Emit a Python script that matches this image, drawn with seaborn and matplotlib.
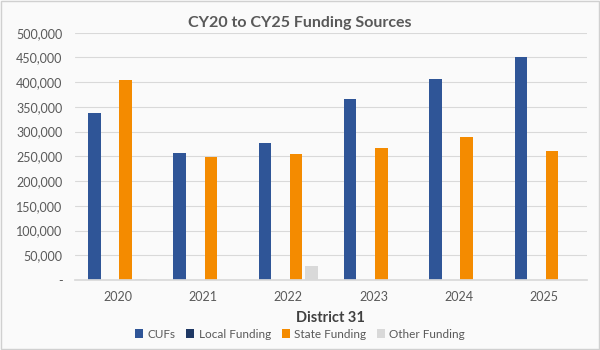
import matplotlib
matplotlib.use("Agg")
import matplotlib.pyplot as plt
import matplotlib.ticker as mticker
import seaborn as sns
import pandas as pd

years = ["2020", "2021", "2022", "2023", "2024", "2025"]
series = ["CUFs", "Local Funding", "State Funding", "Other Funding"]
cufs = [337000, 257000, 276000, 365000, 406000, 450000]
local_funding = [0, 0, 0, 0, 0, 0]
state_funding = [405000, 248000, 254000, 267000, 290000, 260000]
other_funding = [2000, 1000, 28000, 0, 0, 0]
colors = ["#2F5597", "#1F3864", "#F48B00", "#D9D9D9"]

rows = []
for name, vals in zip(series, [cufs, local_funding, state_funding, other_funding]):
    for y, v in zip(years, vals):
        rows.append({"Year": y, "Series": name, "Value": v})
df = pd.DataFrame(rows)

sns.set_theme(style="white")
plt.rcParams["font.family"] = ["Lato", "DejaVu Sans"]

fig = plt.figure(figsize=(6, 3.5), dpi=100)
fig.patch.set_facecolor("#FAFAFA")
ax = fig.add_axes([0.125, 0.2, 0.853, 0.7066])
ax.set_facecolor("#FAFAFA")

sns.barplot(data=df, x="Year", y="Value", hue="Series", hue_order=series,
            palette=colors, width=0.73, gap=0.2, ax=ax, legend=True,
            saturation=1, linewidth=0)

ax.set_ylim(0, 500000)
ax.set_yticks(range(0, 500001, 50000))
ax.yaxis.set_major_formatter(mticker.FuncFormatter(
    lambda v, p: "-" if v == 0 else f"{int(v):,}"))
ax.grid(axis="y", color="#D9D9D9", linewidth=0.8)
ax.set_axisbelow(True)
for s in ["top", "right", "left"]:
    ax.spines[s].set_visible(False)
ax.spines["bottom"].set_color("#D9D9D9")
ax.tick_params(axis="both", length=0, labelsize=9, colors="#595959", pad=9)
ax.tick_params(axis="x", pad=8)
ax.set_ylabel("")
ax.set_xlabel("District 31", fontsize=10.5, fontweight="bold", color="#404040", labelpad=6)

fig.text(0.5, 0.933, "CY20 to CY25 Funding Sources", ha="center", va="center",
         fontsize=11.5, fontweight="bold", color="#595959")

handles, labels = ax.get_legend_handles_labels()
ax.get_legend().remove()
fig.legend(handles, labels, loc="center", bbox_to_anchor=(0.5, 0.045), ncol=4,
           frameon=False, fontsize=8.5, handlelength=0.7, handleheight=0.7,
           handletextpad=0.35, columnspacing=0.9, labelcolor="#595959")

border = plt.Rectangle((0.002, 0.003), 0.996, 0.994, transform=fig.transFigure,
                       fill=False, edgecolor="#D0D0D0", linewidth=1)
fig.patches.append(border)

fig.savefig("out.png", dpi=100, facecolor=fig.get_facecolor())
